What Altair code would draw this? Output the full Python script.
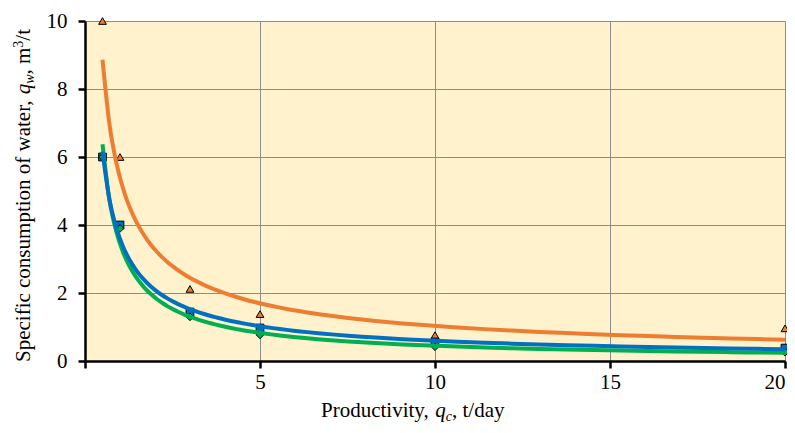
import altair as alt
import pandas as pd

# ---- data ----
x_vals = [0.5, 1, 3, 5, 10, 20]
orange_y = [10.0, 6.0, 2.12, 1.38, 0.76, 0.96]   # triangles
blue_y = [6.0, 4.0, 1.44, 0.97, 0.56, 0.38]       # squares
green_y = [6.0, 3.9, 1.30, 0.77, 0.42, 0.26]      # diamonds

series = ["A", "B", "C"]
shapes = ["triangle-up", "square", "diamond"]
colors = ["#ED7D31", "#0070C0", "#00B050"]

x_ticks = [0, 5, 10, 15, 20]
y_ticks = [0, 2, 4, 6, 8, 10]

rows = []
for s, ys in zip(series, [orange_y, blue_y, green_y]):
    for xv, yv in zip(x_vals, ys):
        rows.append({"s": s, "x": xv, "y": yv})
df = pd.DataFrame(rows)

FONT = "Liberation Serif"
W, H = 700, 340

xsc = alt.Scale(domain=[0, 20], nice=False, zero=False)
ysc = alt.Scale(domain=[0, 10], nice=False)

common_axis = dict(
    domainColor="black", domainWidth=2.5, tickColor="black", tickWidth=2.5,
    tickSize=7, labelFont=FONT, labelFontSize=21, labelColor="black",
    gridColor="#8C8C8C", gridWidth=1, title=None,
)
x_axis = alt.Axis(values=x_ticks, labelPadding=3,
                  labelExpr="datum.value == 0 ? '' : datum.label", **common_axis)
y_axis = alt.Axis(values=y_ticks, labelPadding=11, **common_axis)

base = alt.Chart(df)

points = base.mark_point(filled=True, stroke="black", strokeWidth=1, opacity=1).encode(
    x=alt.X("x:Q", scale=xsc, axis=x_axis),
    y=alt.Y("y:Q", scale=ysc, axis=y_axis),
    shape=alt.Shape("s:N", scale=alt.Scale(domain=series, range=shapes), legend=None),
    fill=alt.Fill("s:N", scale=alt.Scale(domain=series, range=colors), legend=None),
    size=alt.value(60),
)

def trend(s, color):
    return base.transform_filter(alt.datum.s == s).transform_regression(
        "x", "y", method="pow"
    ).mark_line(strokeWidth=4, color=color, interpolate="monotone").encode(
        x=alt.X("x:Q", scale=xsc),
        y=alt.Y("y:Q", scale=ysc),
    )

lines = [trend("A", colors[0]), trend("C", colors[2]), trend("B", colors[1])]

def txt(t, x, y, size=21, italic=False, angle=0):
    kw = dict(font=FONT, fontSize=size, color="black", align="left",
              baseline="alphabetic")
    if italic:
        kw["fontStyle"] = "italic"
    if angle:
        kw["angle"] = angle
    return alt.Chart(pd.DataFrame({"t": [t]})).mark_text(**kw).encode(
        text="t:N", x=alt.value(x), y=alt.value(y)
    )

# y title pieces (rotated)
yb = -55
ytitle = [
    txt("Specific consumption of water, ", yb, 341, angle=270),
    txt("q", yb, 73.3, italic=True, angle=270),
    txt("w", yb + 4, 62.8, size=14, italic=True, angle=270),
    txt(", m", yb, 53.5, angle=270),
    txt("3", yb - 7, 26.7, size=14, angle=270),
    txt("/t", yb, 19.7, angle=270),
]
# x title pieces
xb = 396
xtitle = [
    txt("Productivity, ", 236, xb),
    txt("q", 350.3, xb, italic=True),
    txt("c", 360.8, xb + 4, size=14, italic=True),
    txt(", t/day", 367, xb),
]

chart = alt.layer(points, *lines, *ytitle, *xtitle).properties(
    width=W, height=H,
    autosize=alt.AutoSizeParams(type="none"),
    padding={"left": 77, "top": 13, "right": 2, "bottom": 64},
    background="white",
).configure_view(fill="#FFF2CC", strokeWidth=0)

chart.save("out.html", embed_options={"renderer": "svg", "actions": False})
